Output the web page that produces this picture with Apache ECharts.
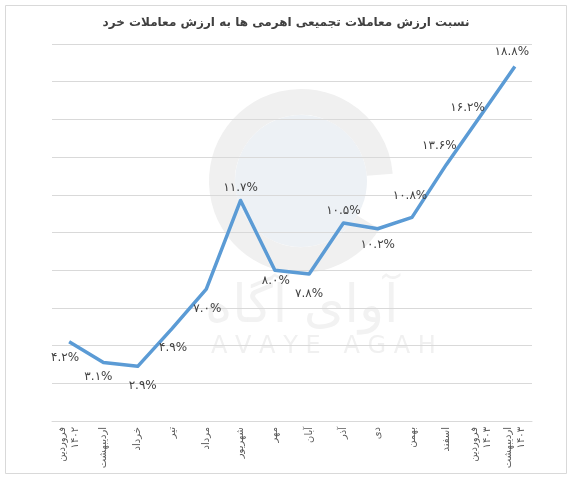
<!DOCTYPE html>
<html>
<head>
<meta charset="utf-8">
<script src="https://cdn.jsdelivr.net/npm/echarts@6/dist/echarts.min.js"></script>
<style>
  html, body { margin: 0; padding: 0; background: #fff; }
  #ratioChart { width: 572px; height: 479px; }
</style>
</head>
<body>
<div id="ratioChart"></div>
<script>
var months = ["فروردین\n۱۴۰۲", "اردیبهشت", "خرداد", "تیر", "مرداد", "شهریور", "مهر",
  "آبان", "آذر", "دی", "بهمن", "اسفند", "فروردین\n۱۴۰۳", "اردیبهشت\n۱۴۰۳"];
var ratio = [4.2, 3.1, 2.9, 4.9, 7.0, 11.7, 8.0, 7.8, 10.5, 10.2, 10.8, 13.6, 16.2, 18.8];

// where each label sits relative to its point
var labelPlace = [
  ["bottom", [-4, 5]], ["bottom", [-5, 3]], ["bottom", [5, 8]], ["bottom", [1, 8]],
  ["bottom", [1, 8]], ["top", [0, -1]], ["bottom", [1, -1]], ["bottom", [0, 8]],
  ["top", [0, -1]], ["bottom", [0, 5]], ["top", [-2, -10]], ["top", [-7, -7]],
  ["top", [-13, 4]], ["top", [-3, -3]]
];

function toFa(s) {
  return String(s).replace(/[0-9]/g, function (d) { return "۰۱۲۳۴۵۶۷۸۹"[d]; });
}

var font = "DejaVu Sans";
var myChart = echarts.init(document.getElementById("ratioChart"));

var seriesData = ratio.map(function (v, i) {
  return {
    value: v,
    label: { position: labelPlace[i][0], offset: labelPlace[i][1] }
  };
});

var option = {
  backgroundColor: "#fff",
  textStyle: { fontFamily: font },
  title: {
    text: "نسبت ارزش معاملات تجمیعی اهرمی ها به ارزش معاملات خرد",
    left: "center",
    top: 12,
    textStyle: { fontSize: 12, fontWeight: "bold", color: "#404040", fontFamily: font }
  },
  graphic: [
    {
      type: "rect", left: 5, top: 5, z: -10,
      shape: { width: 561, height: 468 },
      style: { fill: "#fff", stroke: "#d9d9d9", lineWidth: 1 }
    },
    // faint watermark
    {
      type: "circle", z: -5, silent: true,
      shape: { cx: 301, cy: 181, r: 66 },
      style: { fill: "#edf1f5" }
    },
    {
      type: "arc", z: -5, silent: true,
      shape: { cx: 301, cy: 181, r: 79, startAngle: 0.55, endAngle: 0.55 + Math.PI * 1.8 },
      style: { stroke: "#f0f0f0", lineWidth: 26, fill: null }
    },
    {
      type: "text", z: -5, silent: true, left: 205, top: 282,
      style: { text: "آوای آگاه", font: "52px DejaVu Sans", fill: "#f2f2f2" }
    },
    {
      type: "text", z: -5, silent: true, left: 211, top: 335,
      style: { text: "A V A Y E   A G A H", font: "24px DejaVu Sans", fill: "#f0f0f0" }
    }
  ],
  grid: { left: 52, right: 40, top: 44, bottom: 58 },
  xAxis: {
    type: "category",
    data: months,
    axisLine: { lineStyle: { color: "#d9d9d9" } },
    axisTick: { show: false },
    axisLabel: {
      rotate: 90,
      interval: 0,
      fontSize: 10,
      color: "#595959",
      margin: 6,
      lineHeight: 13
    }
  },
  yAxis: {
    type: "value",
    min: 0,
    max: 20,
    interval: 2,
    axisLabel: { show: false },
    axisLine: { show: false },
    axisTick: { show: false },
    splitLine: { lineStyle: { color: "#d9d9d9" } }
  },
  series: [
    {
      type: "line",
      data: seriesData,
      showSymbol: true,
      symbol: "circle",
      symbolSize: 1,
      itemStyle: { color: "rgba(0,0,0,0)", borderWidth: 0 },
      lineStyle: { color: "#5b9bd5", width: 3.5, join: "round" },
      label: {
        show: true,
        fontSize: 12,
        color: "#404040",
        fontFamily: font,
        formatter: function (p) { return toFa(p.value.toFixed(1)) + "%"; }
      }
    }
  ]
};

myChart.setOption(option);
</script>
</body>
</html>
